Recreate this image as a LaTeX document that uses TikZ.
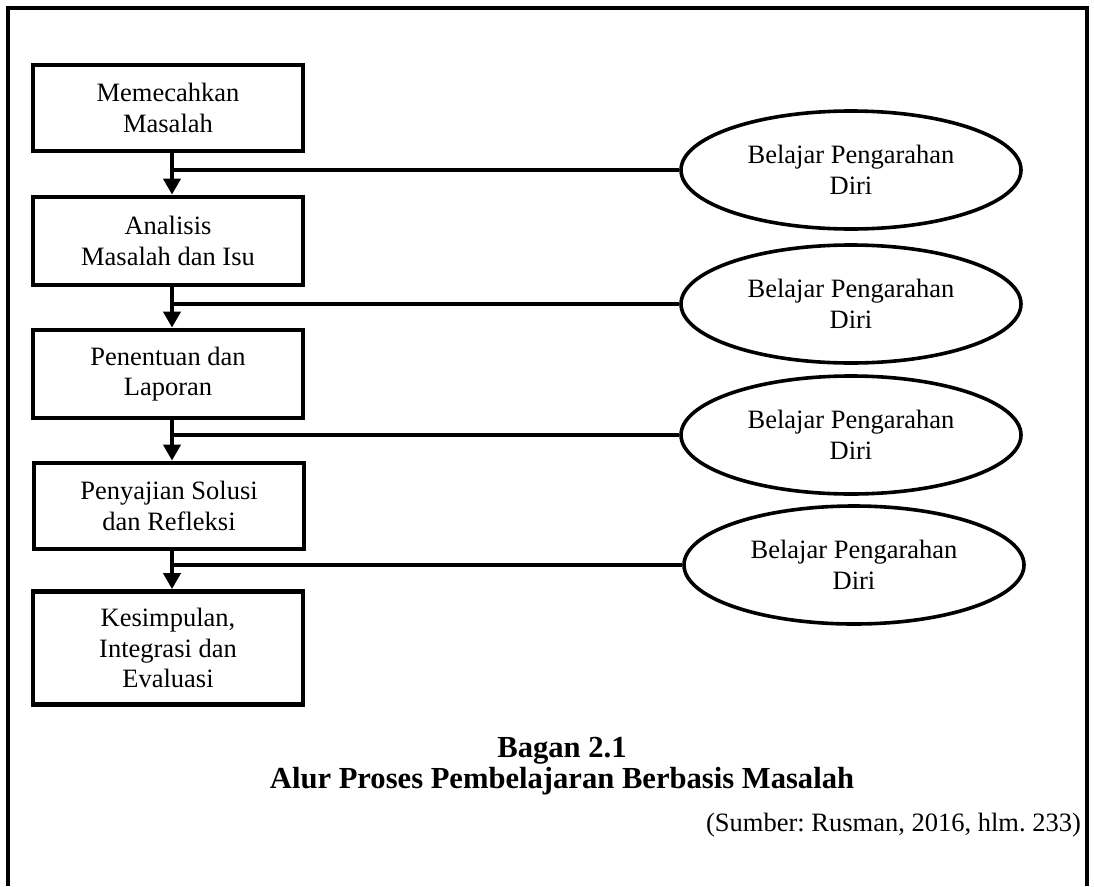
\documentclass[tikz,border=0pt]{standalone}
\usepackage{fontspec}
\setmainfont{Liberation Serif}
\usetikzlibrary{arrows.meta,shapes.geometric}
\frenchspacing
\begin{document}
\begin{tikzpicture}[x=1pt,y=-1pt,
  stepbox/.style={draw, line width=4.8pt, minimum width=270pt, align=center,
    font=\fontsize{26.5}{30.5}\selectfont, inner sep=0pt},
  selfnode/.style={draw, ellipse, line width=3.6pt, minimum width=340pt,
    minimum height=118pt, align=center, font=\fontsize{26.5}{30.5}\selectfont, inner sep=0pt},
  link/.style={line width=4.3pt},
  flow/.style={line width=4.3pt, -{Triangle[length=16pt,width=17pt]}},
  frameline/.style={line width=3.2pt}
]
\useasboundingbox (0,0) rectangle (1094,886);
\draw[frameline] (8,886) -- (8,8) -- (1087,8) -- (1087,886);

\node[stepbox, minimum height=86pt] (b1) at (168,108) {Memecahkan\\Masalah};
\node[stepbox, minimum height=88pt] (b2) at (168,241) {Analisis\\Masalah dan Isu};
\node[stepbox, minimum height=88pt] (b3) at (168,374) {Penentuan dan\\Laporan};
\node[stepbox, minimum height=86pt] (b4) at (169,506) {Penyajian Solusi\\dan Refleksi};
\node[stepbox, minimum height=113pt] (b5) at (168,648) {Kesimpulan,\\Integrasi dan\\Evaluasi};

\node[selfnode] (e1) at (851,170) {Belajar Pengarahan\\Diri};
\node[selfnode] (e2) at (851,304) {Belajar Pengarahan\\Diri};
\node[selfnode] (e3) at (851,435) {Belajar Pengarahan\\Diri};
\node[selfnode] (e4) at (854,565) {Belajar Pengarahan\\Diri};

\coordinate (j1) at (172,170);
\coordinate (j2) at (172,304);
\coordinate (j3) at (172,435);
\coordinate (j4) at (172,565);

\draw[flow] ([xshift=4pt]b1.south) -- ([xshift=4pt]b2.north);
\draw[flow] ([xshift=4pt]b2.south) -- ([xshift=4pt]b3.north);
\draw[flow] ([xshift=4pt]b3.south) -- ([xshift=3pt]b4.north);
\draw[flow] ([xshift=3pt]b4.south) -- ([xshift=4pt]b5.north);

\draw[link] (e1.west) -- (j1);
\draw[link] (e2.west) -- (j2);
\draw[link] (e3.west) -- (j3);
\draw[link] (e4.west) -- (j4);

\node[anchor=base, font=\fontsize{30.6}{35}\selectfont\bfseries] (t1) at (562,757) {Bagan 2.1};
\node[anchor=base, font=\fontsize{30.6}{35}\selectfont\bfseries] (t2) at (562,788) {Alur Proses Pembelajaran Berbasis Masalah};
\node[anchor=base east, font=\fontsize{26.5}{30.5}\selectfont, inner sep=0pt] (src) at (1081,831) {(Sumber: Rusman, 2016, hlm. 233)};
\end{tikzpicture}
\end{document}
